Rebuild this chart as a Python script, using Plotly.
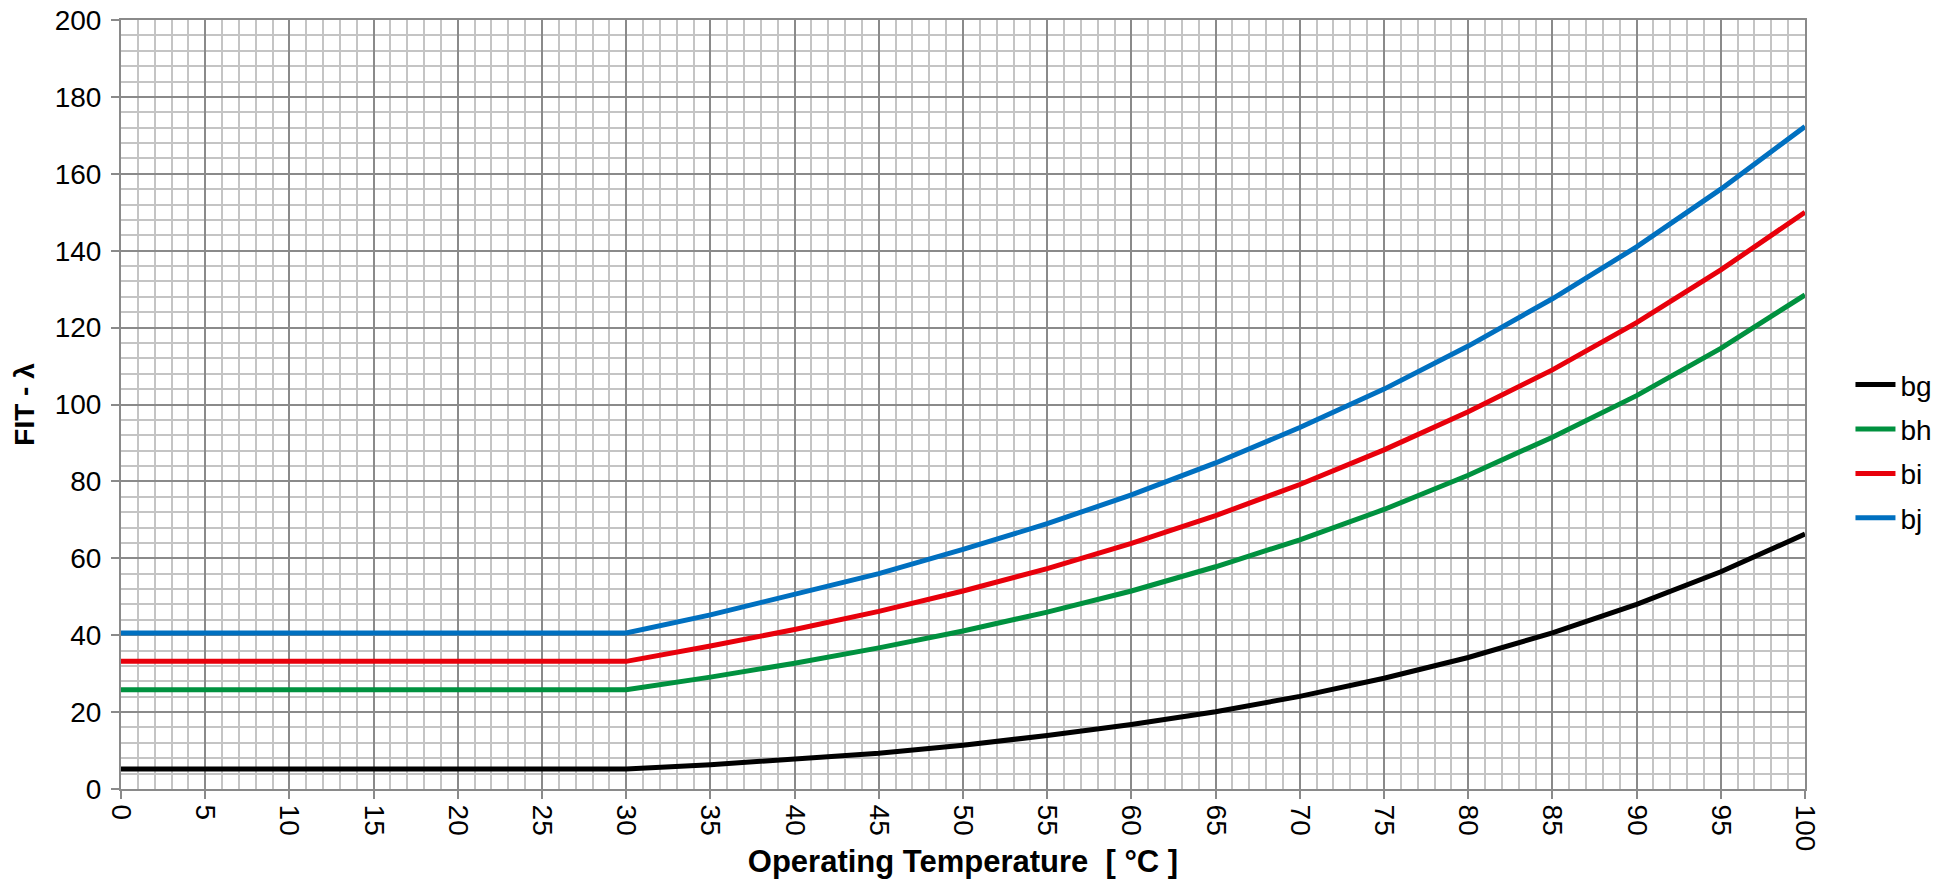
import plotly.graph_objects as go

temps = [0, 5, 10, 15, 20, 25, 30, 35, 40, 45, 50, 55, 60, 65, 70, 75, 80, 85, 90, 95, 100]
bg = [5.2, 5.2, 5.2, 5.2, 5.2, 5.2, 5.2, 6.3, 7.7, 9.3, 11.4, 13.9, 16.8, 20.1, 24.1, 28.8, 34.2, 40.6, 48.0, 56.5, 66.3]
bh = [25.8, 25.8, 25.8, 25.8, 25.8, 25.8, 25.8, 29.1, 32.7, 36.7, 41.1, 46.0, 51.5, 57.8, 64.8, 72.7, 81.6, 91.5, 102.3, 114.6, 128.5]
bi = [33.2, 33.2, 33.2, 33.2, 33.2, 33.2, 33.2, 37.2, 41.5, 46.2, 51.5, 57.3, 63.9, 71.1, 79.2, 88.2, 98.1, 109.0, 121.3, 135.0, 150.0]
bj = [40.6, 40.6, 40.6, 40.6, 40.6, 40.6, 40.6, 45.3, 50.5, 56.0, 62.3, 69.0, 76.5, 84.8, 94.0, 104.0, 115.2, 127.5, 141.0, 156.0, 172.3]

series = [("bg", bg, "#000000"), ("bh", bh, "#00913F"), ("bi", bi, "#E8000B"), ("bj", bj, "#0070C0")]

fig = go.Figure()
for name, vals, color in series:
    fig.add_trace(go.Scatter(x=temps, y=vals, name=name, mode="lines", legendgroup=name,
                             line=dict(color=color, width=5)))

font_family = "Liberation Sans, Arial, sans-serif"
major = "#8a8a8a"
minor = "#c4c4c4"

fig.update_layout(
    width=1955, height=881,
    margin=dict(l=121, r=150, t=20, b=92, autoexpand=False),
    paper_bgcolor="white", plot_bgcolor="white",
    font=dict(family=font_family, size=28, color="black"),
    legend=dict(x=1.027, y=0.439, xanchor="left", yanchor="middle",
                font=dict(size=28), tracegroupgap=5, itemwidth=40),
    showlegend=True,
)
fig.update_xaxes(
    range=[0, 100], dtick=5, tick0=0, tickangle=90, automargin=False,
    showgrid=True, gridcolor=major, gridwidth=2,
    minor=dict(dtick=1, showgrid=True, gridcolor=minor, gridwidth=2),
    ticks="outside", ticklen=8, tickcolor=major, tickwidth=2,
    showline=True, linecolor=major, linewidth=2, mirror=True,
    zeroline=False,
    title=dict(text="<b>Operating Temperature  [ °C ]</b>", font=dict(size=31), standoff=0),
    tickfont=dict(size=28),
)
fig.update_yaxes(
    range=[0, 200], dtick=20, tick0=0, automargin=False,
    showgrid=True, gridcolor=major, gridwidth=2,
    minor=dict(dtick=4, showgrid=True, gridcolor=minor, gridwidth=2),
    ticks="outside", ticklen=8, tickcolor=major, tickwidth=2, ticklabelstandoff=4,
    showline=True, linecolor=major, linewidth=2, mirror=True,
    zeroline=False,
    title=dict(text="<b>FIT - λ</b>", font=dict(size=28), standoff=12),
    tickfont=dict(size=28),
)

fig.write_html("out.html", config={"displayModeBar": False},
               post_script="document.body.style.margin='0';document.body.style.overflow='hidden';")
